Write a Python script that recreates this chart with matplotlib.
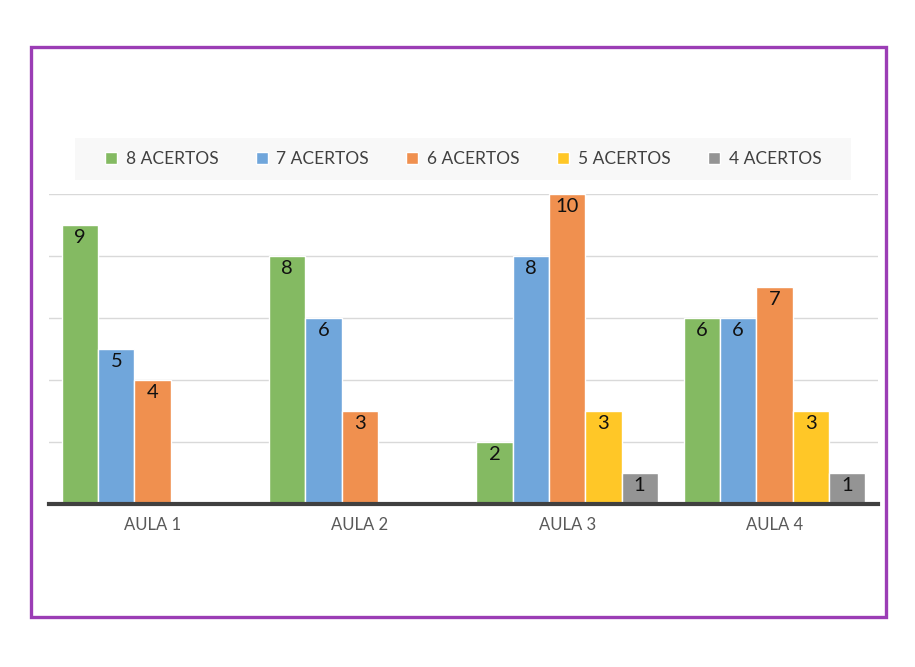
import numpy as np
import matplotlib.pyplot as plt
from matplotlib.patches import Rectangle

aulas = ['AULA 1', 'AULA 2', 'AULA 3', 'AULA 4']
series = ['8 ACERTOS', '7 ACERTOS', '6 ACERTOS', '5 ACERTOS', '4 ACERTOS']
acertos_8 = [9, 8, 2, 6]
acertos_7 = [5, 6, 8, 6]
acertos_6 = [4, 3, 10, 7]
acertos_5 = [0, 0, 3, 3]
acertos_4 = [0, 0, 1, 1]
values = [acertos_8, acertos_7, acertos_6, acertos_5, acertos_4]
colors = ['#84BA62', '#70A6DB', '#F0904F', '#FFC727', '#949494']

plt.rcParams['font.family'] = ['Lato', 'DejaVu Sans']

fig = plt.figure(figsize=(9.15, 6.67), dpi=100)
W, H = 915, 667
ax = fig.add_axes([49 / W, 1 - 504 / H, 829 / W, 310 / H])

x = np.arange(len(aulas))
w = 0.175
for j, (name, vals, c) in enumerate(zip(series, values, colors)):
    pos = x + (j - 2) * w
    bars = ax.bar(pos, vals, w, color=c, edgecolor='white', linewidth=1, label=name, zorder=2)
    for b, v in zip(bars, vals):
        if v > 0:
            ax.text(b.get_x() + b.get_width() / 2, v - 0.12, str(v), ha='center', va='top',
                    fontsize=14.5, color='#111111', zorder=3)

ax.set_xlim(-0.5, 3.5)
ax.set_ylim(0, 10)
ax.set_yticks([2, 4, 6, 8, 10])
ax.yaxis.grid(True, color='#D9D9D9', linewidth=1, zorder=0)
ax.set_axisbelow(True)
ax.tick_params(axis='y', left=False, labelleft=False)
ax.set_xticks(x)
ax.set_xticklabels(aulas, fontsize=12, color='#595959')
ax.tick_params(axis='x', length=0, pad=9)
for s in ax.spines.values():
    s.set_visible(False)
ax.axhline(0, color='#404040', linewidth=3, zorder=4, clip_on=False)

# legend background strip, wider than the legend entries
fig.patches.append(Rectangle((75 / W, 1 - 180 / H), 776 / W, 42 / H, transform=fig.transFigure,
                             facecolor='#F8F8F8', edgecolor='none', zorder=0))
leg = fig.legend(loc='center', bbox_to_anchor=(463 / W, 1 - 159 / H), ncol=5,
                 frameon=False, fontsize=12.5, handlelength=0.7, handleheight=0.7,
                 handletextpad=0.5, columnspacing=2.15, labelcolor='#404040')

fig.patches.append(Rectangle((31 / W, 1 - 617 / H), 855 / W, 570 / H, transform=fig.transFigure,
                             fill=False, edgecolor='#9B3DB5', linewidth=2.4))

fig.savefig('out.png', dpi=100)
